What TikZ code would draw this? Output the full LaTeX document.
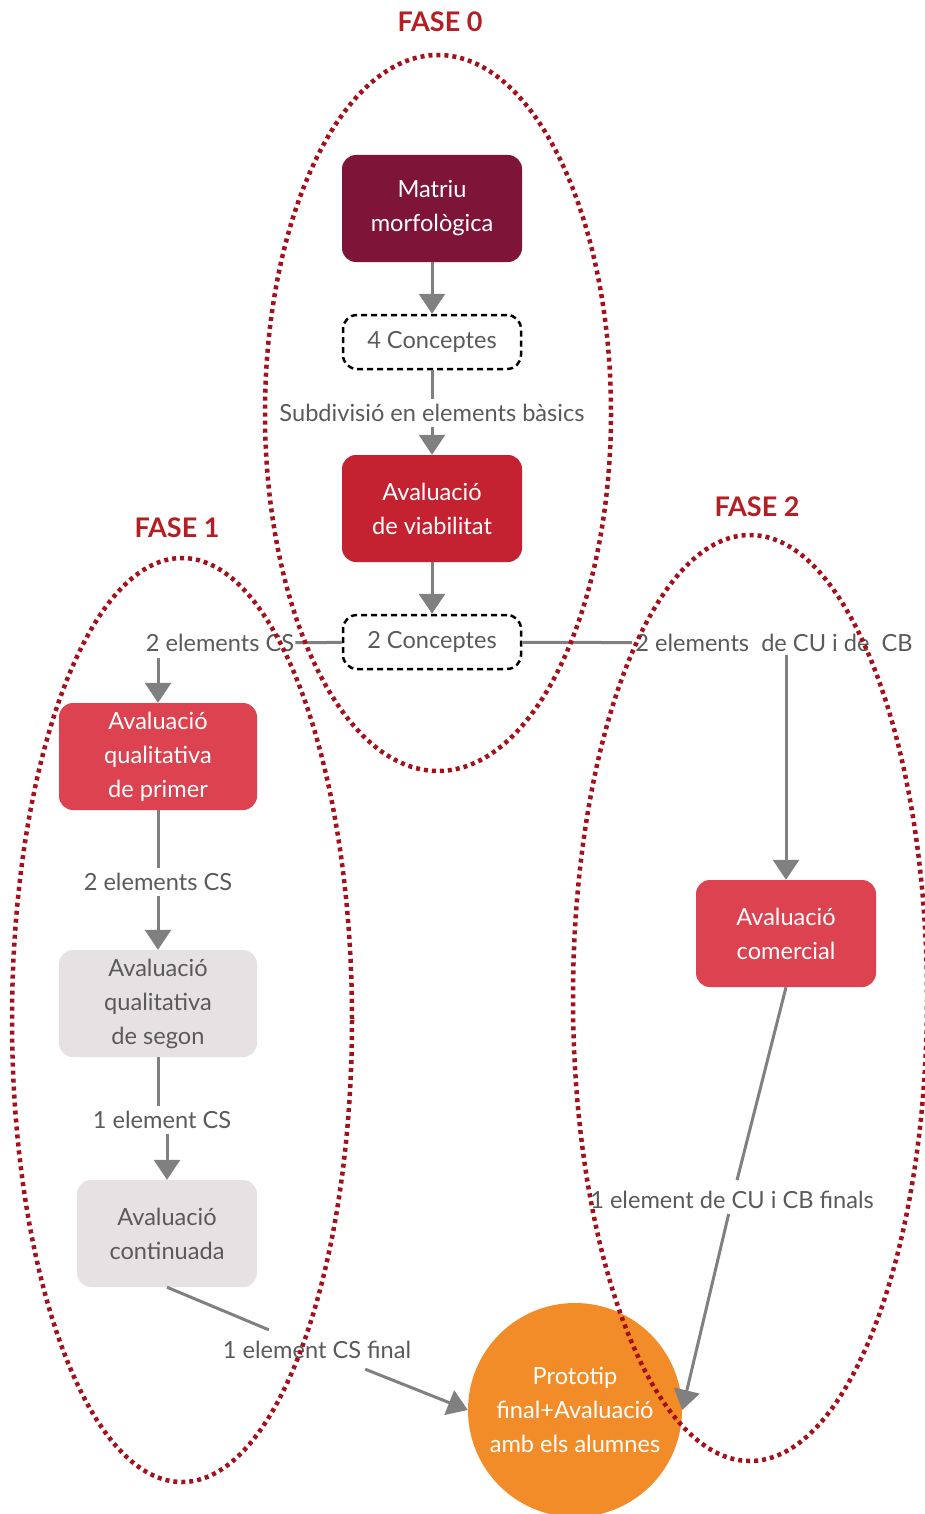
\documentclass[tikz,border=0pt]{standalone}
\usepackage{fontspec}
\setmainfont{Lato}
\usetikzlibrary{arrows.meta,calc}
\definecolor{cMat}{HTML}{7E1437}
\definecolor{cViab}{HTML}{C42230}
\definecolor{cRed}{HTML}{DC4250}
\definecolor{cGrayBox}{HTML}{E6E2E4}
\definecolor{cGrayTxt}{HTML}{5A5A5A}
\definecolor{cOrange}{HTML}{F28C28}
\definecolor{cDots}{HTML}{A3111C}
\definecolor{cTitle}{HTML}{B21F24}
\definecolor{cLine}{HTML}{808080}
\begin{document}
\begin{tikzpicture}[x=1pt,y=-1pt,
  box/.style={rounded corners=14pt, minimum width=180pt, minimum height=107pt, align=center,
    font=\fontsize{23.6}{34}\selectfont, text=white, inner sep=2pt},
  dbox/.style={draw=black, line width=2.5pt, dash pattern=on 6pt off 4pt, rounded corners=14pt,
    minimum width=178pt, minimum height=54pt, font=\fontsize{23.6}{26}\selectfont, text=cGrayTxt},
  lab/.style={font=\fontsize{23.6}{26}\selectfont, text=cGrayTxt, inner sep=5pt},
  ttl/.style={font=\fontsize{27}{30}\selectfont\bfseries, text=cTitle},
  conn/.style={draw=cLine, line width=3pt},
  arr/.style={conn, -{Triangle[width=26pt,length=20pt]}},
  dotell/.style={draw=cDots, line width=4.5pt, dash pattern=on 4pt off 4pt}]
\useasboundingbox (0,0) rectangle (924,1514);
\fill[white] (0,0) rectangle (924,1514);

% titles
\node[ttl] (t0) at (440,22) {FASE 0};
\node[ttl] (t1) at (177,528) {FASE 1};
\node[ttl] (t2) at (757,507) {FASE 2};

% nodes
\node[box, fill=cMat] (mat) at (432,208.5) {Matriu\\morfològica};
\node[dbox] (c4) at (432,342) {4 Conceptes};
\node[lab] (sub) at (432,413) {Subdivisió en elements bàsics};
\node[box, fill=cViab] (viab) at (432,508.5) {Avaluació\\de viabilitat};
\node[dbox] (c2) at (432,642) {2 Conceptes};
\node[lab, inner sep=1pt] (lcs1) at (220,643) {2 elements CS};
\node[lab, inner sep=3pt] (lcub) at (774,643) {2 elements~ de CU i de~ CB};
\node[box, fill=cRed, minimum width=198pt] (prim) at (158,756.5) {Avaluació\\qualitativa\\de primer};
\node[lab] (lcs2) at (158,882) {2 elements CS};
\node[box, fill=cGrayBox, text=cGrayTxt, minimum width=198pt] (seg) at (158,1003.5) {Avaluació\\qualitativa\\de segon};
\node[lab] (l1cs) at (162,1120) {1 element CS};
\node[box, fill=cGrayBox, text=cGrayTxt] (cont) at (167,1233.5) {Avaluació\\continuada};
\node[lab] (lcsf) at (317,1350) {1 element CS final};
\node[box, fill=cRed] (com) at (786,933.5) {Avaluació\\comercial};
\node[lab] (lcuf) at (732,1200) {1 element de CU i CB finals};
\node[circle, fill=cOrange, minimum size=214pt, inner sep=0pt, align=center,
  font=\fontsize{23.6}{34}\selectfont, text=white] (proto) at (575,1410) {Prototip\\final+Avaluació\\amb els alumnes};

% connectors
\draw[arr] (mat) -- (c4);
\draw[conn] (c4) -- (sub);
\draw[arr] (sub) -- (viab);
\draw[arr] (viab) -- (c2);
\draw[conn] (c2) -- (lcs1);
\draw[conn] (c2) -- (lcub);
\draw[arr, shorten <=5pt] (lcs1.south -| prim.north) -- (prim.north);
\draw[conn] (prim) -- (lcs2);
\draw[arr] (lcs2) -- (seg);
\draw[conn] (seg.south) -- (seg.south |- l1cs.north);
\draw[arr] (l1cs.south -| cont.north) -- (cont.north);
\draw[conn, shorten >=16pt] (cont.south) -- (lcsf);
\draw[arr, shorten <=14pt] (lcsf) -- (proto.west);
\draw[arr] (lcub.south -| com.north) -- (com.north);
\draw[conn, shorten >=6pt] (com.south) -- (lcuf);
\draw[arr] (lcuf) -- (proto.east);

% phase ellipses
\draw[dotell] (438,413) ellipse [x radius=173, y radius=358];
\draw[dotell] (182,1020) ellipse [x radius=170, y radius=462];
\draw[dotell] (750,998) ellipse [x radius=177, y radius=463];
\end{tikzpicture}
\end{document}
